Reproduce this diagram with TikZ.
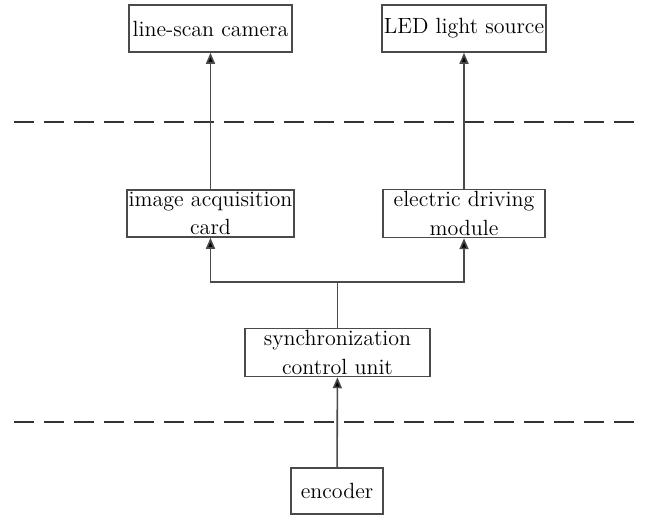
\documentclass[tikz,border=0pt]{standalone}
\usepackage{xcolor}
\usepackage{tikz}
\usetikzlibrary{positioning, arrows.meta, calc}
\definecolor{boxline}{HTML}{4A4A4A}
\definecolor{sepline}{HTML}{333333}

\begin{document}
\begin{tikzpicture}[x=0.5pt, y=-0.5pt,
    block/.style={draw=boxline, line width=0.8pt, align=center, inner sep=1pt,
      font=\fontsize{11}{14.2}\selectfont},
    link/.style={draw=boxline, line width=0.8pt},
    arrow/.style={link, -{Triangle[length=5.5pt, width=4.5pt, fill=black]}},
    separator/.style={draw=sepline, line width=0.6pt, dash pattern=on 10pt off 5pt}]
  \useasboundingbox (0,0) rectangle (647,517);

  \node[block, minimum width=81.5pt, minimum height=23.5pt] (camera) at (210.5,28.5) {line-scan camera};
  \node[block, minimum width=81pt, minimum height=23.5pt] (light) at (464,28.5) {LED light source};
  \node[block, minimum width=81.5pt, minimum height=23.5pt] (card) at (210.5,213.5) {image acquisition\\card};
  \node[block, minimum width=81pt, minimum height=23.5pt] (driver) at (464,213.5) {electric driving\\module};
  \node[block, minimum width=92.5pt, minimum height=23.5pt] (sync) at (337.5,352.5) {synchronization\\control unit};
  \node[block, minimum width=46pt, minimum height=23pt] (encoder) at (337,491) {encoder};

  % separators
  \coordinate (sepAl) at (14,122);
  \coordinate (sepAr) at (640,122);
  \coordinate (sepBl) at (14,422);
  \coordinate (sepBr) at (640,422);
  \draw[separator] (sepAl) -- (sepAr);
  \draw[separator] (sepBl) -- (sepBr);

  % connectors
  \coordinate (split) at ($(sync.north)+(0,-46)$);
  \draw[arrow] (card) -- (camera);
  \draw[arrow] (driver) -- (light);
  \draw[link] (sync.north) -- (split);
  \draw[arrow] (split) -| (card.south);
  \draw[arrow] (split) -| (driver.south);
  \draw[arrow] (encoder) -- (sync);
\end{tikzpicture}
\end{document}
